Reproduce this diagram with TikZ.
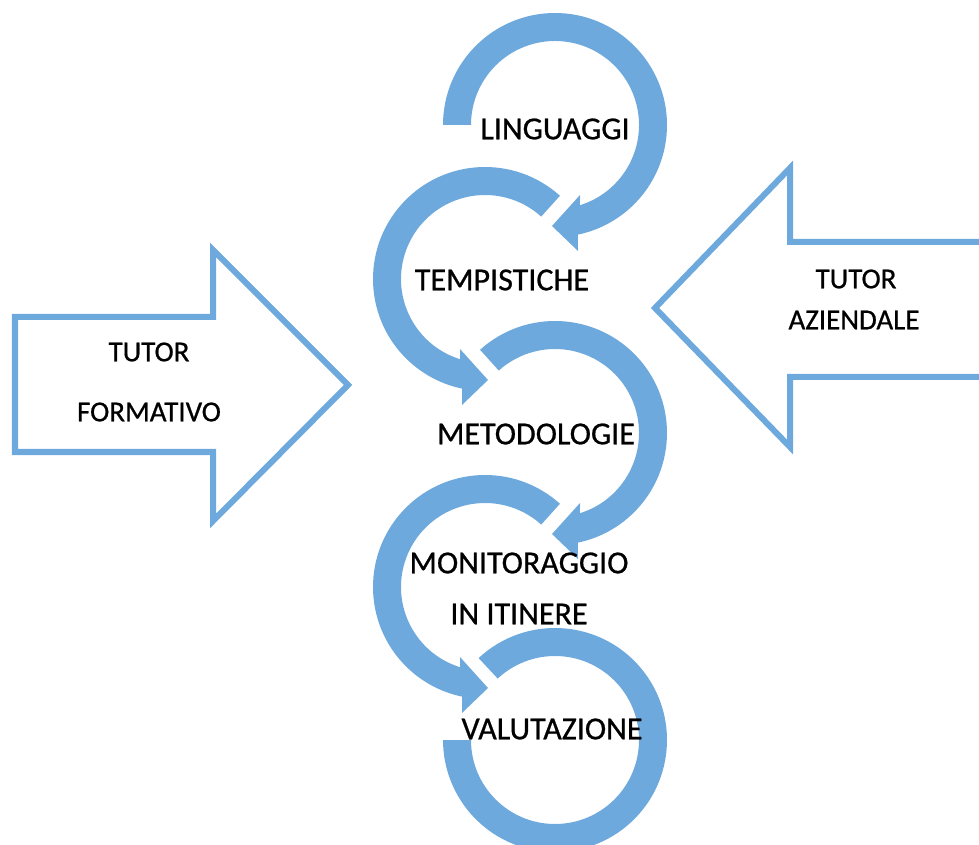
\documentclass[tikz,border=0pt]{standalone}
\usepackage{fontspec}
\setmainfont{Carlito}
\newfontfamily\labelfont{Carlito}[FakeBold=0.7]
\usepackage{tikz}
\usetikzlibrary{calc}
\definecolor{ringblue}{RGB}{110,169,221}
\tikzset{
    ring/.style={fill=ringblue},
    bigarrow/.style={draw=ringblue,line width=0.15cm,line join=miter},
    steplabel/.style={font=\labelfont\fontsize{22.8}{26}\selectfont,inner sep=0pt},
    tutorlabel/.style={font=\labelfont\fontsize{20.6}{24}\selectfont,inner sep=0pt}
}

\begin{document}
\begin{tikzpicture}[x=0.025cm,y=0.025cm]
\useasboundingbox (0,0) rectangle (979,-845);

% tutor arrows
\draw[bigarrow] (15,-317)--(213,-317)--(213,-250)--(348,-385)--(213,-521)--(213,-452)--(15,-452)--cycle;
\draw[bigarrow] (990,-242)--(790,-242)--(790,-168)--(655,-308)--(790,-447)--(790,-377)--(990,-377);

% circular arrows
\fill[ring,shift={(555,-125)}] (180:112) arc[start angle=180,end angle=-78.2,radius=112]
    --(23,-126)--(-3,-101)--(25,-70)--(-72.7:84) arc[start angle=-72.7,end angle=180,radius=84]--cycle;
\fill[ring,shift={(485,-279)}] (48:112) arc[start angle=48,end angle=258.2,radius=112]
    --(-23,-126)--(3,-101)--(-25,-70)--(252.7:84) arc[start angle=252.7,end angle=48,radius=84]--cycle;
\fill[ring,shift={(555,-433)}] (132:112) arc[start angle=132,end angle=-78.2,radius=112]
    --(23,-126)--(-3,-101)--(25,-70)--(-72.7:84) arc[start angle=-72.7,end angle=132,radius=84]--cycle;
\fill[ring,shift={(485,-587)}] (48:112) arc[start angle=48,end angle=258.2,radius=112]
    --(-23,-126)--(3,-101)--(-25,-70)--(252.7:84) arc[start angle=252.7,end angle=48,radius=84]--cycle;
\fill[ring,shift={(555,-740)}] (133:112) arc[start angle=133,end angle=-180,radius=112]
    --(-180:84) arc[start angle=-180,end angle=133,radius=84]--cycle;

% labels
\node[steplabel] (linguaggi) at (555,-129) {LINGUAGGI};
\node[steplabel] (tempistiche) at (502,-280) {TEMPISTICHE};
\node[steplabel] (metodologie) at (536,-434) {METODOLOGIE};
\node[steplabel] (monitoraggio) at (519,-563) {MONITORAGGIO};
\node[steplabel] (itinere) at (519,-614) {IN ITINERE};
\node[steplabel] (valutazione) at (552,-729) {VALUTAZIONE};
\node[tutorlabel] (tutorf) at (149,-352) {TUTOR};
\node[tutorlabel] (formativo) at (149,-412) {FORMATIVO};
\node[tutorlabel] (tutora) at (856,-279) {TUTOR};
\node[tutorlabel] (aziendale) at (854,-320) {AZIENDALE};
\end{tikzpicture}
\end{document}
